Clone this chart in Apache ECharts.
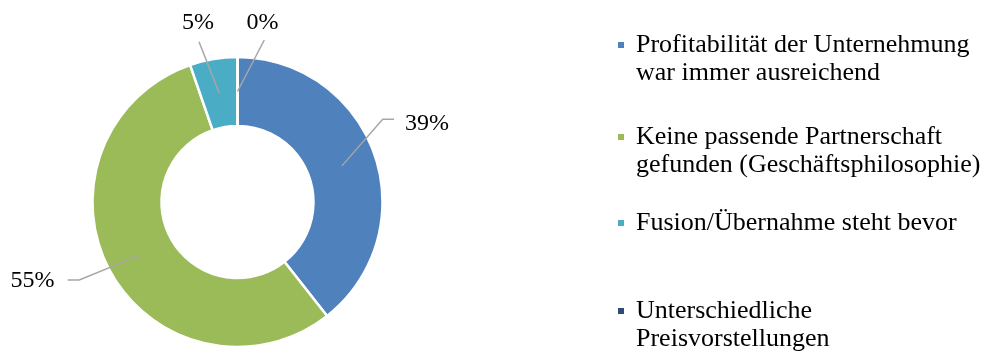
<!DOCTYPE html>
<html>
<head>
<meta charset="utf-8">
<style>
  html, body { margin: 0; padding: 0; background: #ffffff; }
  #chart { width: 993px; height: 356px; }
</style>
<script src="https://cdn.jsdelivr.net/npm/echarts@6/dist/echarts.min.js"></script>
</head>
<body>
<div id="chart"></div>
<script>
// Reasons for not selling: shares of responses (percent)
const CATEGORIES = [
  'Profitabilität der Unternehmung\nwar immer ausreichend',
  'Keine passende Partnerschaft\ngefunden (Geschäftsphilosophie)',
  'Fusion/Übernahme steht bevor',
  'Unterschiedliche\nPreisvorstellungen'
];
const SHARES = [39.4, 55.3, 5.3, 0];
const COLORS = ['#4F81BD', '#9BBB59', '#4BACC6', '#2C4D75'];

// Placement of the percentage labels and their leader lines
const LABEL_SPOTS = [
  { text: [427, 124], bend: [382.7, 119.3], tip: [394, 119.3] },
  { text: [32.5, 281], bend: [79.3, 280], tip: [67.7, 280] },
  { text: [198, 23], tip: [199, 41.7] },
  { text: [262.5, 23], tip: [264.3, 40] }
];
// Vertical centre of each legend marker
const LEGEND_MARKER_Y = [45, 137, 223, 311];

const CENTER = [237.5, 202];
const RADII = [76, 145];
const LINE_H = 28;
const SERIF = '"Liberation Serif", "Times New Roman", serif';

const chart = echarts.init(document.getElementById('chart'), null, { renderer: 'canvas' });

// One legend block per entry; the marker sits beside the first text line.
// A blank leading line keeps the first text line level with the marker.
const legends = CATEGORIES.map((name, i) => {
  const lines = name.split('\n').length;
  const shown = lines > 1 ? '\n'.repeat(lines - 1) + name : name;
  return {
    show: true,
    selectedMode: false,
    orient: 'vertical',
    left: 616,
    top: LEGEND_MARKER_Y[i] - (2 * lines - 1) * LINE_H / 2,
    padding: 0,
    icon: 'rect',
    itemWidth: 8,
    itemHeight: 8,
    data: [name],
    formatter: () => shown,
    textStyle: {
      fontFamily: SERIF,
      fontSize: 26,
      color: '#000000',
      lineHeight: LINE_H,
      padding: [0, 0, 0, 6]
    }
  };
});

const pieData = CATEGORIES.map((name, i) => ({ name: name, value: SHARES[i] }));

chart.setOption({
  animation: false,
  backgroundColor: '#ffffff',
  color: COLORS,
  legend: legends,
  series: [
    {
      // the ring itself
      type: 'pie',
      center: CENTER,
      radius: RADII,
      startAngle: 90,
      clockwise: true,
      silent: true,
      z: 2,
      itemStyle: { borderColor: '#ffffff', borderWidth: 2.5 },
      label: { show: false },
      labelLine: { show: false },
      data: pieData
    },
    {
      // transparent overlay carrying the percentage labels and leaders,
      // so the leaders can reach into the ring
      type: 'pie',
      center: CENTER,
      radius: RADII,
      startAngle: 90,
      clockwise: true,
      silent: true,
      z: 4,
      avoidLabelOverlap: false,
      legendHoverLink: false,
      itemStyle: { color: 'rgba(0,0,0,0)', borderWidth: 0 },
      label: {
        show: true,
        position: 'outside',
        fontFamily: SERIF,
        fontSize: 24,
        color: '#000000',
        formatter: (p) => Math.round(p.value) + '%'
      },
      labelLine: {
        show: true,
        showAbove: true,
        length: 10,
        length2: 10,
        lineStyle: { color: '#A6A6A6', width: 1.5 }
      },
      labelLayout: (params) => {
        const spot = LABEL_SPOTS[params.dataIndex];
        const out = { x: spot.text[0], y: spot.text[1], align: 'center', verticalAlign: 'middle' };
        const pts = params.labelLinePoints;
        if (pts && pts.length) {
          // start the leader in the middle of the ring, along the slice's mid-angle
          const dx = pts[0][0] - CENTER[0];
          const dy = pts[0][1] - CENTER[1];
          const r = Math.sqrt(dx * dx + dy * dy) || 1;
          const rm = (RADII[0] + RADII[1]) / 2;
          const start = [CENTER[0] + dx / r * rm, CENTER[1] + dy / r * rm];
          const bend = spot.bend || spot.tip;
          out.labelLinePoints = [start, bend, spot.tip];
        }
        return out;
      },
      data: pieData
    }
  ]
});
</script>
</body>
</html>
